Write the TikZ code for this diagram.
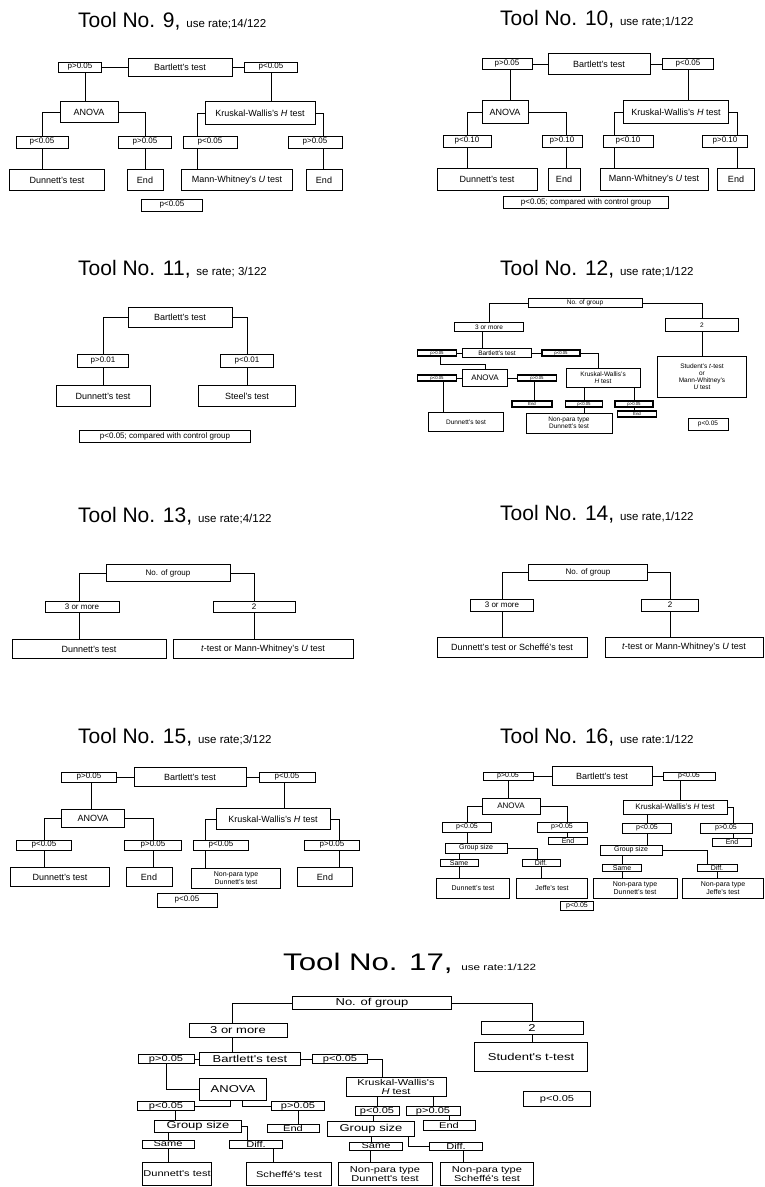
\documentclass[tikz,border=0pt]{standalone}
\usepackage{fontspec}
\setmainfont{Liberation Sans}
\newfontfamily\widesans[FakeStretch=1.3]{Liberation Sans}
\usetikzlibrary{positioning}
\newcommand\fnA{\fontsize{9}{10}\selectfont}
\newcommand\fnB{\fontsize{8}{9}\selectfont}
\newcommand\fnC{\fontsize{7}{8}\selectfont}
\newcommand\fnD{\fontsize{6.5}{7}\selectfont}
\newcommand\fnE{\fontsize{4.3}{5}\selectfont}
\newcommand\fnW{\widesans\fontsize{10}{10.5}\selectfont}
\newcommand\fnWs{\widesans\fontsize{8.5}{9}\selectfont}
\newcommand\fnT{\fontsize{21}{24}\selectfont}
\newcommand\fnU{\fontsize{11.5}{13}\selectfont}
\newcommand\fnTW{\widesans\fontsize{24}{26}\selectfont}
\newcommand\fnUW{\widesans\fontsize{9}{10}\selectfont}

\begin{document}
\begin{tikzpicture}[x=1pt, y=-1pt,
    ln/.style={line width=0.9pt},
    sz/.style 2 args={minimum width=#1pt, minimum height=#2pt},
    box/.style={draw, line width=0.9pt, inner sep=0.5pt, align=center, font=\fnA},
    pbox/.style={box, font=\fnB},
    sbox/.style={box, font=\fnC},
    tbox/.style={box, font=\fnD},
    pmini/.style={box, line width=1.4pt, font=\fnE},
    wbox/.style={box, font=\fnW},
    wpbox/.style={box, font=\fnWs},
    ttl/.style={anchor=base west, inner sep=0pt}
  ]
  \useasboundingbox (0,0) rectangle (765,1187);

  %% TOOL 9
  \node[ttl] (t9title) at (78,27) {\fnT Tool No. 9, \fnU use rate;14/122};
  \node[box, sz={104}{18}] (t9bart) at (180,67) {Bartlett's test};
  \node[pbox, sz={43}{10}] (t9pl) at (80,67) {p>0.05};
  \node[pbox, sz={53}{10}] (t9pr) at (271,67) {p<0.05};
  \node[box, sz={58}{21}] (t9anova) at (89,112) {ANOVA};
  \node[box, sz={110}{23}] (t9kw) at (260,113) {Kruskal-Wallis's \textit{H} test};
  \node[pbox, sz={52}{12}] (t9p1) at (42,142) {p<0.05};
  \node[pbox, sz={53}{12}] (t9p2) at (145,142) {p>0.05};
  \node[pbox, sz={54}{12}] (t9p3) at (210,142) {p<0.05};
  \node[pbox, sz={54}{12}] (t9p4) at (315,142) {p>0.05};
  \node[box, sz={95}{21}] (t9dun) at (57,180) {Dunnett's test};
  \node[box, sz={36}{21}] (t9end1) at (145,180) {End};
  \node[box, sz={111}{21}] (t9mw) at (237,180) {Mann-Whitney's \textit{U} test};
  \node[box, sz={36}{21}] (t9end2) at (324,180) {End};
  \node[pbox, sz={61}{12}] (t9note) at (172,205) {p<0.05};

  \draw[ln] (t9pl) -- (t9bart) -- (t9pr);
  \draw[ln] ([xshift=5pt]t9pl.south) -- ([xshift=5pt]t9pl.south |- t9anova.north);
  \draw[ln] (t9anova.west) -| (t9p1.north);
  \draw[ln] (t9p1.south) -- (t9p1.south |- t9dun.north);
  \draw[ln] (t9anova.east) -| (t9p2.north);
  \draw[ln] (t9p2.south) -- (t9end1.north);
  \draw[ln] (t9pr.south) -- (t9pr.south |- t9kw.north);
  \draw[ln] (t9kw.west) -| ([xshift=-13pt]t9p3.north);
  \draw[ln] ([xshift=-13pt]t9p3.south) -- ([xshift=-13pt]t9p3.south |- t9mw.north);
  \draw[ln] (t9kw.east) -| ([xshift=8pt]t9p4.north);
  \draw[ln] ([xshift=8pt]t9p4.south) -- ([xshift=8pt]t9p4.south |- t9end2.north);

  %% TOOL 10
  \node[ttl] (t10title) at (500,25) {\fnT Tool No. 10, \fnU use rate;1/122};
  \node[box, sz={102}{21}] (t10bart) at (599,64) {Bartlett's test};
  \node[pbox, sz={50}{11}] (t10pl) at (507,64) {p>0.05};
  \node[pbox, sz={51}{11}] (t10pr) at (688,64) {p<0.05};
  \node[box, sz={46}{23}] (t10anova) at (505,112) {ANOVA};
  \node[box, sz={105}{23}] (t10kw) at (676,112) {Kruskal-Wallis's \textit{H} test};
  \node[pbox, sz={48}{12}] (t10p1) at (467,141) {p<0.10};
  \node[pbox, sz={40}{12}] (t10p2) at (562,141) {p>0.10};
  \node[pbox, sz={50}{12}] (t10p3) at (628,141) {p<0.10};
  \node[pbox, sz={45}{12}] (t10p4) at (725,141) {p>0.10};
  \node[box, sz={100}{22}] (t10dun) at (487,179) {Dunnett's test};
  \node[box, sz={32}{22}] (t10end1) at (564,179) {End};
  \node[box, sz={108}{22}] (t10mw) at (654,179) {Mann-Whitney's \textit{U} test};
  \node[box, sz={37}{22}] (t10end2) at (736,179) {End};
  \node[pbox, sz={165}{12}] (t10note) at (586,202) {p<0.05; compared with control group};

  \draw[ln] (t10pl) -- (t10bart) -- (t10pr);
  \draw[ln] ([xshift=3pt]t10pl.south) -- ([xshift=3pt]t10pl.south |- t10anova.north);
  \draw[ln] (t10anova.west) -| (t10p1.north);
  \draw[ln] (t10p1.south) -- (t10p1.south |- t10dun.north);
  \draw[ln] (t10anova.east) -| ([xshift=4pt]t10p2.north);
  \draw[ln] ([xshift=4pt]t10p2.south) -- ([xshift=4pt]t10p2.south |- t10end1.north);
  \draw[ln] (t10pr.south) -- (t10pr.south |- t10kw.north);
  \draw[ln] (t10kw.west) -| ([xshift=-14pt]t10p3.north);
  \draw[ln] ([xshift=-14pt]t10p3.south) -- ([xshift=-14pt]t10p3.south |- t10mw.north);
  \draw[ln] (t10kw.east) -| ([xshift=12pt]t10p4.north);
  \draw[ln] ([xshift=12pt]t10p4.south) -- ([xshift=12pt]t10p4.south |- t10end2.north);

  %% TOOL 11
  \node[ttl] (t11title) at (78,275) {\fnT Tool No. 11, \fnU se rate; 3/122};
  \node[box, sz={104}{20}] (t11bart) at (180,317) {Bartlett's test};
  \node[pbox, sz={51}{13}] (t11p1) at (103,361) {p>0.01};
  \node[pbox, sz={53}{13}] (t11p2) at (247,361) {p<0.01};
  \node[box, sz={94}{21}] (t11dun) at (103,396) {Dunnett's test};
  \node[box, sz={97}{21}] (t11steel) at (247,396) {Steel's test};
  \node[pbox, sz={171}{12}] (t11note) at (165,436) {p<0.05; compared with control group};

  \draw[ln] (t11bart.west) -| (t11p1.north);
  \draw[ln] (t11p1.south) -- (t11dun.north);
  \draw[ln] (t11bart.east) -| (t11p2.north);
  \draw[ln] (t11p2.south) -- (t11steel.north);

  %% TOOL 12
  \node[ttl] (t12title) at (500,275) {\fnT Tool No. 12, \fnU use rate;1/122};
  \node[tbox, sz={114}{9}] (t12nog) at (585,303) {No. of group};
  \node[tbox, sz={69}{9}] (t12more) at (489,327) {3 or more};
  \node[tbox, sz={73}{13}] (t12two) at (702,325) {2};
  \node[tbox, sz={69}{9}] (t12bart) at (497,353) {Bartlett's test};
  \node[pmini, sz={39}{6}] (t12pl) at (437,353) {p>0.05};
  \node[pmini, sz={38}{6}] (t12pr) at (561,353) {p<0.05};
  \node[box, font=\fnB, sz={45}{17}] (t12anova) at (485,378) {ANOVA};
  \node[pmini, sz={39}{6}] (t12pa1) at (437,378) {p<0.05};
  \node[pmini, sz={39}{6}] (t12pa2) at (537,378) {p>0.05};
  \node[tbox, sz={75}{19}] (t12dun) at (466,422) {Dunnett's test};
  \node[pmini, sz={40}{6}] (t12end1) at (532,404) {End};
  \node[tbox, sz={74}{19}] (t12kw) at (603,378) {Kruskal-Wallis's\\\textit{H} test};
  \node[pmini, sz={37}{6}] (t12pk1) at (584,404) {p<0.05};
  \node[pmini, sz={38}{6}] (t12pk2) at (634,404) {p>0.05};
  \node[tbox, sz={86}{20}] (t12npd) at (569,423) {Non-para type\\Dunnett's test};
  \node[pmini, sz={39}{6}] (t12end2) at (637,414) {End};
  \node[tbox, sz={89}{41}] (t12stu) at (702,377) {Student's \textit{t}-test\\or\\Mann-Whitney's\\\textit{U} test};
  \node[tbox, sz={40}{12}] (t12note) at (708,424) {p<0.05};

  \draw[ln] (t12nog.west) -| (t12more.north);
  \draw[ln] (t12nog.east) -| (t12two.north);
  \draw[ln] ([xshift=-7pt]t12more.south) -- ([xshift=-7pt]t12more.south |- t12bart.north);
  \draw[ln] (t12pl) -- (t12bart) -- (t12pr);
  \draw[ln] ([xshift=3pt]t12pl.south) -- ++(0,8) -| (t12anova.north);
  \draw[ln] (t12pa1) -- (t12anova) -- (t12pa2);
  \draw[ln] ([xshift=6pt]t12pa1.south) -- ([xshift=6pt]t12pa1.south |- t12dun.north);
  \draw[ln] ([xshift=-3pt]t12pa2.south) -- ([xshift=-3pt]t12pa2.south |- t12end1.north);
  \draw[ln] (t12pr.east) -| ([xshift=-5pt]t12kw.north);
  \draw[ln] (t12kw.south -| t12pk1.north) -- (t12pk1.north);
  \draw[ln] (t12pk1.south) -- (t12pk1.south |- t12npd.north);
  \draw[ln] (t12kw.south -| t12pk2.north) -- (t12pk2.north);
  \draw[ln] (t12pk2.south) -- (t12pk2.south |- t12end2.north);
  \draw[ln] (t12two.south) -- (t12two.south |- t12stu.north);

  %% TOOL 13
  \node[ttl] (t13title) at (78,522) {\fnT Tool No. 13, \fnU use rate;4/122};
  \node[pbox, sz={124}{17}] (t13nog) at (168,573) {No. of group};
  \node[pbox, sz={74}{11}] (t13more) at (82,607) {3 or more};
  \node[pbox, sz={82}{11}] (t13two) at (254,607) {2};
  \node[box, sz={154}{19}] (t13dun) at (89,649) {Dunnett's test};
  \node[box, sz={180}{19}] (t13tt) at (263,649) {\textit{t}-test or Mann-Whitney's \textit{U} test};

  \draw[ln] (t13nog.west) -| ([xshift=-3pt]t13more.north);
  \draw[ln] (t13nog.east) -| (t13two.north);
  \draw[ln] ([xshift=-3pt]t13more.south) -- ([xshift=-3pt]t13more.south |- t13dun.north);
  \draw[ln] (t13two.south) -- (t13two.south |- t13tt.north);

  %% TOOL 14
  \node[ttl] (t14title) at (500,520) {\fnT Tool No. 14, \fnU use rate,1/122};
  \node[pbox, sz={119}{16}] (t14nog) at (588,572) {No. of group};
  \node[pbox, sz={63}{12}] (t14more) at (502,605) {3 or more};
  \node[pbox, sz={57}{12}] (t14two) at (670,605) {2};
  \node[box, sz={150}{20}] (t14dun) at (512,647) {Dunnett's test or Scheffé's test};
  \node[box, sz={158}{20}] (t14tt) at (684,647) {\textit{t}-test or Mann-Whitney's \textit{U} test};

  \draw[ln] (t14nog.west) -| (t14more.north);
  \draw[ln] (t14nog.east) -| (t14two.north);
  \draw[ln] (t14more.south) -- (t14more.south |- t14dun.north);
  \draw[ln] (t14two.south) -- (t14two.south |- t14tt.north);

  %% TOOL 15
  \node[ttl] (t15title) at (78,743) {\fnT Tool No. 15, \fnU use rate;3/122};
  \node[box, sz={112}{19}] (t15bart) at (190,777) {Bartlett's test};
  \node[pbox, sz={55}{10}] (t15pl) at (89,777) {p>0.05};
  \node[pbox, sz={56}{10}] (t15pr) at (287,777) {p<0.05};
  \node[box, sz={63}{18}] (t15anova) at (93,818) {ANOVA};
  \node[box, sz={114}{21}] (t15kw) at (273,819) {Kruskal-Wallis's \textit{H} test};
  \node[pbox, sz={55}{10}] (t15p1) at (44,845) {p<0.05};
  \node[pbox, sz={57}{10}] (t15p2) at (153,845) {p>0.05};
  \node[pbox, sz={55}{10}] (t15p3) at (221,845) {p<0.05};
  \node[pbox, sz={55}{10}] (t15p4) at (332,845) {p>0.05};
  \node[box, sz={99}{19}] (t15dun) at (60,877) {Dunnett's test};
  \node[box, sz={46}{19}] (t15end1) at (149,877) {End};
  \node[sbox, sz={89}{20}] (t15npd) at (236,878) {Non-para type\\Dunnett's test};
  \node[box, sz={55}{19}] (t15end2) at (325,877) {End};
  \node[pbox, sz={60}{14}] (t15note) at (187,900) {p<0.05};

  \draw[ln] (t15pl) -- (t15bart) -- (t15pr);
  \draw[ln] ([xshift=2pt]t15pl.south) -- ([xshift=2pt]t15pl.south |- t15anova.north);
  \draw[ln] (t15anova.west) -| (t15p1.north);
  \draw[ln] (t15p1.south) -- (t15p1.south |- t15dun.north);
  \draw[ln] (t15anova.east) -| (t15p2.north);
  \draw[ln] (t15p2.south) -- (t15p2.south |- t15end1.north);
  \draw[ln] ([xshift=-3pt]t15pr.south) -- ([xshift=-3pt]t15pr.south |- t15kw.north);
  \draw[ln] (t15kw.west) -| ([xshift=-16pt]t15p3.north);
  \draw[ln] ([xshift=-16pt]t15p3.south) -- ([xshift=-16pt]t15p3.south |- t15npd.north);
  \draw[ln] (t15kw.east) -| ([xshift=7pt]t15p4.north);
  \draw[ln] ([xshift=7pt]t15p4.south) -- ([xshift=7pt]t15p4.south |- t15end2.north);

  %% TOOL 16
  \node[ttl] (t16title) at (500,743) {\fnT Tool No. 16, \fnU use rate:1/122};
  \node[box, sz={100}{19}] (t16bart) at (602,776) {Bartlett's test};
  \node[sbox, sz={50}{8}] (t16pl) at (508,776) {p>0.05};
  \node[sbox, sz={52}{8}] (t16pr) at (689,776) {p<0.05};
  \node[pbox, sz={58}{16}] (t16anova) at (511,806) {ANOVA};
  \node[pbox, sz={104}{14}] (t16kw) at (675,807) {Kruskal-Wallis's \textit{H} test};
  \node[sbox, sz={49}{10}] (t16pa1) at (467,827) {p<0.05};
  \node[sbox, sz={50}{10}] (t16pa2) at (562,827) {p>0.05};
  \node[sbox, sz={62}{10}] (t16gs1) at (476,848) {Group size};
  \node[sbox, sz={38}{7}] (t16s1) at (459,863) {Same};
  \node[sbox, sz={38}{7}] (t16d1) at (541,863) {Diff.};
  \node[sbox, sz={73}{20}] (t16dun) at (473,888) {Dunnett's test};
  \node[sbox, sz={71}{20}] (t16jef) at (552,888) {Jeffe's test};
  \node[sbox, sz={39}{7}] (t16end1) at (568,841) {End};
  \node[sbox, sz={49}{10}] (t16pk1) at (647,828) {p<0.05};
  \node[sbox, sz={52}{10}] (t16pk2) at (726,828) {p>0.05};
  \node[sbox, sz={62}{10}] (t16gs2) at (631,850) {Group size};
  \node[sbox, sz={39}{7}] (t16s2) at (622,868) {Same};
  \node[sbox, sz={40}{7}] (t16d2) at (717,868) {Diff.};
  \node[sbox, sz={84}{20}] (t16npd) at (635,888) {Non-para type\\Dunnett's test};
  \node[sbox, sz={81}{20}] (t16npj) at (723,888) {Non-para type\\Jeffe's test};
  \node[sbox, sz={39}{8}] (t16end2) at (732,842) {End};
  \node[sbox, sz={33}{9}] (t16note) at (577,906) {p<0.05};

  \draw[ln] (t16pl) -- (t16bart) -- (t16pr);
  \draw[ln] (t16pl.south) -- (t16pl.south |- t16anova.north);
  \draw[ln] (t16anova.west) -| (t16pa1.north);
  \draw[ln] (t16pa1.south) -- (t16pa1.south |- t16gs1.north);
  \draw[ln] (t16gs1.south -| t16s1.north) -- (t16s1.north);
  \draw[ln] (t16s1.south) -- (t16s1.south |- t16dun.north);
  \draw[ln] (t16gs1.east) -| ([xshift=-4pt]t16d1.north);
  \draw[ln] (t16d1.south) -- (t16d1.south |- t16jef.north);
  \draw[ln] (t16anova.east) -| ([xshift=5pt]t16pa2.north);
  \draw[ln] ([xshift=5pt]t16pa2.south) -- ([xshift=5pt]t16pa2.south |- t16end1.north);
  \draw[ln] ([xshift=-9pt]t16pr.south) -- ([xshift=-9pt]t16pr.south |- t16kw.north);
  \draw[ln] (t16kw.south -| t16pk1.north) -- (t16pk1.north);
  \draw[ln] (t16pk1.south) -- (t16pk1.south |- t16gs2.north);
  \draw[ln] (t16gs2.south -| t16s2.north) -- (t16s2.north);
  \draw[ln] (t16s2.south) -- (t16s2.south |- t16npd.north);
  \draw[ln] (t16gs2.east) -| ([xshift=-10pt]t16d2.north);
  \draw[ln] (t16d2.south) -- (t16d2.south |- t16npj.north);
  \draw[ln] (t16kw.east) -| ([xshift=7pt]t16pk2.north);
  \draw[ln] ([xshift=7pt]t16pk2.south) -- ([xshift=7pt]t16pk2.south |- t16end2.north);

  %% TOOL 17
  \node[ttl] (t17title) at (283,970) {\fnTW Tool No. 17, \fnUW use rate:1/122};
  \node[wbox, sz={159}{13}] (t17nog) at (372,1003) {No. of group};
  \node[wbox, sz={98}{14}] (t17more) at (238,1030) {3 or more};
  \node[wbox, sz={102}{13}] (t17two) at (532,1028) {2};
  \node[wbox, sz={113}{29}] (t17stu) at (531,1057) {Student's t-test};
  \node[wbox, sz={101}{13}] (t17bart) at (250,1059) {Bartlett's test};
  \node[wpbox, sz={56}{9}] (t17pl) at (166,1059) {p>0.05};
  \node[wpbox, sz={55}{9}] (t17pr) at (340,1059) {p<0.05};
  \node[wbox, sz={67}{22}] (t17anova) at (233,1089) {ANOVA};
  \node[wpbox, sz={100}{19}] (t17kw) at (396,1087) {Kruskal-Wallis's\\\textit{H} test};
  \node[wpbox, sz={57}{8}] (t17pa1) at (166,1106) {p<0.05};
  \node[wpbox, sz={53}{8}] (t17pa2) at (298,1106) {p>0.05};
  \node[wbox, sz={87}{12}] (t17gs1) at (198,1126) {Group size};
  \node[wpbox, sz={52}{8}] (t17end1) at (293,1128) {End};
  \node[wpbox, sz={52}{8}] (t17s1) at (168,1144) {Same};
  \node[wpbox, sz={53}{8}] (t17d1) at (256,1144) {Diff.};
  \node[wpbox, sz={67}{23}] (t17dun) at (177,1174) {Dunnett's test};
  \node[wpbox, sz={85}{23}] (t17sch) at (289,1174) {Scheffé's test};
  \node[wpbox, sz={44}{8}] (t17pk1) at (377,1111) {p<0.05};
  \node[wpbox, sz={54}{8}] (t17pk2) at (433,1111) {p>0.05};
  \node[wbox, sz={87}{15}] (t17gs2) at (371,1129) {Group size};
  \node[wpbox, sz={52}{10}] (t17end2) at (449,1125) {End};
  \node[wpbox, sz={53}{8}] (t17s2) at (376,1146) {Same};
  \node[wpbox, sz={53}{8}] (t17d2) at (456,1146) {Diff.};
  \node[wpbox, sz={94}{23}] (t17npd) at (385,1174) {Non-para type\\Dunnett's test};
  \node[wpbox, sz={93}{23}] (t17nps) at (487,1174) {Non-para type\\Scheffé's test};
  \node[wpbox, sz={67}{15}] (t17note) at (557,1099) {p<0.05};

  \draw[ln] (t17nog.west) -| ([xshift=-6pt]t17more.north);
  \draw[ln] (t17nog.east) -| (t17two.north);
  \draw[ln] (t17two.south) -- (t17two.south |- t17stu.north);
  \draw[ln] ([xshift=-6pt]t17more.south) -- ([xshift=-6pt]t17more.south |- t17bart.north);
  \draw[ln] (t17pl) -- (t17bart) -- (t17pr);
  \draw[ln] (t17pl.south) |- (t17anova.west);
  \draw[ln] (t17pr.east) -| ([xshift=-14pt]t17kw.north);
  \draw[ln] ([xshift=-3pt]t17anova.south) |- (t17pa1.east);
  \draw[ln] ([xshift=9pt]t17anova.south) |- (t17pa2.west);
  \draw[ln] ([xshift=9pt]t17pa1.south) -- ([xshift=9pt]t17pa1.south |- t17gs1.north);
  \draw[ln] (t17pa2.south) -- (t17pa2.south |- t17end1.north);
  \draw[ln] (t17gs1.south -| t17s1.north) -- (t17s1.north);
  \draw[ln] (t17gs1.east) -| ([xshift=-9pt]t17d1.north);
  \draw[ln] (t17s1.south) -- (t17s1.south |- t17dun.north);
  \draw[ln] ([xshift=17pt]t17d1.south) -- ([xshift=17pt]t17d1.south |- t17sch.north);
  \draw[ln] (t17kw.south -| t17pk1.north) -- (t17pk1.north);
  \draw[ln] (t17kw.south -| t17pk2.north) -- (t17pk2.north);
  \draw[ln] ([xshift=-4pt]t17pk1.south) -- ([xshift=-4pt]t17pk1.south |- t17gs2.north);
  \draw[ln] (t17pk2.south -| t17end2.north) -- (t17end2.north);
  \draw[ln] (t17gs2.south) -- (t17gs2.south |- t17s2.north);
  \draw[ln] ([xshift=37pt]t17gs2.south) |- (t17d2.west);
  \draw[ln] ([xshift=-6pt]t17s2.south) -- ([xshift=-6pt]t17s2.south |- t17npd.north);
  \draw[ln] ([xshift=7pt]t17d2.south) -- ([xshift=7pt]t17d2.south |- t17nps.north);
\end{tikzpicture}
\end{document}
